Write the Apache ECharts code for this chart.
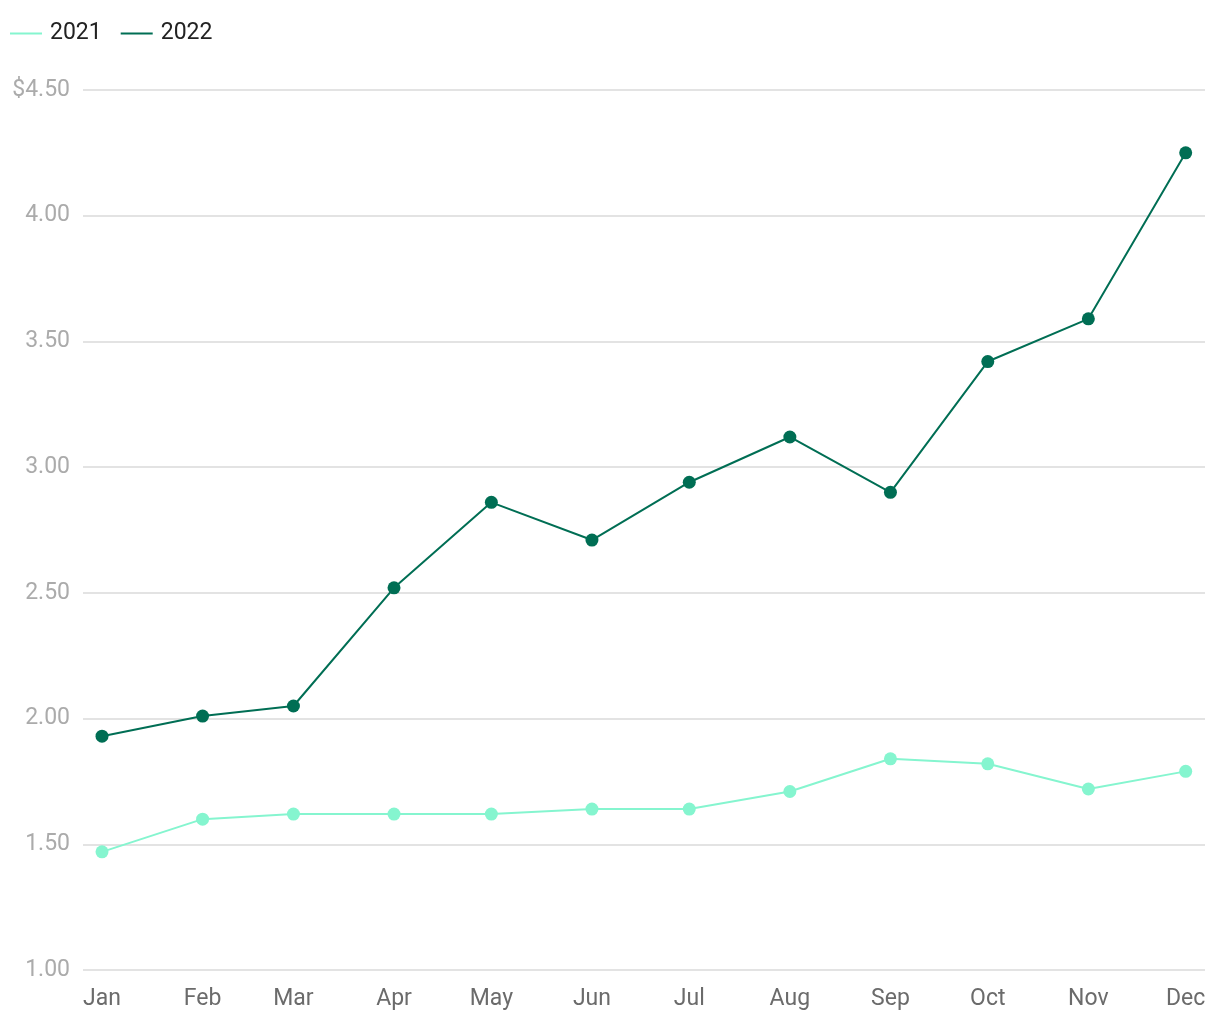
<!DOCTYPE html>
<html><head><meta charset="utf-8">
<script src="https://cdn.jsdelivr.net/npm/echarts@6/dist/echarts.min.js"></script>
<style>html,body{margin:0;padding:0;background:#fff}#c{width:1220px;height:1020px}</style>
</head><body><div id="c"></div>
<script>
const months = ['Jan','Feb','Mar','Apr','May','Jun','Jul','Aug','Sep','Oct','Nov','Dec'];
const values2021 = [1.47,1.60,1.62,1.62,1.62,1.64,1.64,1.71,1.84,1.82,1.72,1.79];
const values2022 = [1.93,2.01,2.05,2.52,2.86,2.71,2.94,3.12,2.90,3.42,3.59,4.25];
const yTicks = [1.0,1.5,2.0,2.5,3.0,3.5,4.0,4.5];

// day-of-year of the first of each month
const monthDays = months.map((m,i)=>(Date.UTC(2022,i,1)-Date.UTC(2022,0,1))/86400000);
const chart = echarts.init(document.getElementById('c'));
chart.setOption({
  animation: false,
  textStyle:{fontFamily:'Roboto'},
  legend:{
    left:10, top:22, padding:0, icon:'rect', itemWidth:32, itemHeight:2, itemGap:19,
    textStyle:{fontSize:23, color:'#222', fontFamily:'Roboto', padding:[0,0,0,3]},
    data:['2021','2022']
  },
  grid:{left:83, right:15, top:90, bottom:50, containLabel:false},
  xAxis:{
    type:'value',
    min: monthDays[0] - 5.86,
    max: monthDays[11] + 5.95,
    axisLine:{show:false}, axisTick:{show:false}, splitLine:{show:false},
    axisLabel:{
      customValues: monthDays,
      formatter:(v)=>months[monthDays.indexOf(Math.round(v))] || '',
      color:'#6b6b6b', fontSize:23, margin:18, fontFamily:'Roboto'
    }
  },
  yAxis:{
    type:'value', min:yTicks[0], max:yTicks[yTicks.length-1], interval:0.5,
    axisLine:{show:false}, axisTick:{show:false},
    splitLine:{lineStyle:{color:'#e3e3e3', width:2}},
    axisLabel:{
      formatter:(v)=> (v===4.5?'$':'') + v.toFixed(2),
      color:'#ababab', fontSize:23, margin:13, fontFamily:'Roboto', padding:[4,0,0,0]
    }
  },
  series:[
    {name:'2021', type:'line', data: monthDays.map((d,i)=>[d,values2021[i]]),
     color:'#85f5cf', symbol:'circle', symbolSize:13, showSymbol:true,
     lineStyle:{width:2, color:'#85f5cf'}, itemStyle:{color:'#85f5cf', borderWidth:0}},
    {name:'2022', type:'line', data: monthDays.map((d,i)=>[d,values2022[i]]),
     color:'#006e54', symbol:'circle', symbolSize:13, showSymbol:true,
     lineStyle:{width:2, color:'#006e54'}, itemStyle:{color:'#006e54', borderWidth:0}}
  ]
});
</script></body></html>
